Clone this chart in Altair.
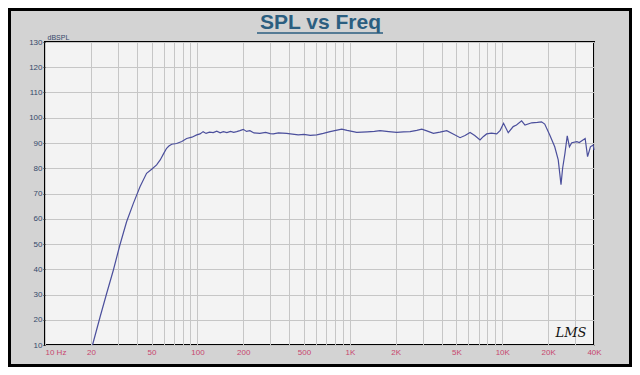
import altair as alt
import pandas as pd

# ---- data ----
freq = [20.5, 23, 25.4, 28.1, 31, 34.3, 38, 42, 46.4, 50.1, 54, 57, 60, 62.8, 65, 67.8,
        73, 79, 85, 92, 99, 104, 109, 114, 120, 127, 134, 141, 148, 156, 165, 173, 181,
        190, 200, 210, 221, 235, 257, 280, 300, 315, 340, 385, 420, 459, 500, 550, 607,
        670, 742, 810, 885, 960, 1110, 1300, 1450, 1578, 1800, 2030, 2250, 2485, 2750,
        2965, 3200, 3535, 3900, 4325, 4800, 5288, 5700, 6150, 6600, 7150, 7500, 7900,
        8500, 9200, 9700, 10200, 10950, 11800, 12400, 13400, 14100, 15600, 17000, 18100,
        19000, 20500, 22100, 23300, 24300, 24900, 25800, 26700, 27600, 28600, 30900,
        32000, 33300, 35000, 36300, 37900, 39500, 40000]
spl = [10, 21.2, 30.5, 39.7, 49.6, 58.8, 66.1, 72.7, 78, 79.6, 81.3, 83.3, 85.8, 87.9,
       88.8, 89.5, 89.8, 90.6, 91.8, 92.3, 93.2, 93.6, 94.5, 93.8, 94.3, 94.1, 94.7, 94.0,
       94.5, 94.1, 94.6, 94.2, 94.5, 94.9, 95.4, 94.6, 94.9, 94.0, 93.8, 94.2, 93.7, 93.6,
       94.0, 93.8, 93.5, 93.2, 93.4, 93.0, 93.2, 93.8, 94.5, 95.0, 95.5, 95.0, 94.2, 94.4,
       94.6, 94.9, 94.5, 94.2, 94.4, 94.5, 95.0, 95.5, 94.8, 93.8, 94.3, 94.9, 93.5, 92.1,
       93.0, 94.2, 93.0, 91.2, 92.5, 93.6, 93.9, 93.6, 95.0, 97.8, 94.1, 96.5, 97.1, 98.8,
       97.1, 98.0, 98.2, 98.4, 97.5, 93.2, 88.5, 83.3, 73.5, 80, 86, 92.8, 88.5, 90.1,
       90.5, 90.2, 90.9, 91.8, 84.6, 88.5, 89.2, 87.2]

x_grid_values = [10, 20, 30, 40, 50, 60, 70, 80, 90,
                 100, 200, 300, 400, 500, 600, 700, 800, 900,
                 1000, 2000, 3000, 4000, 5000, 6000, 7000, 8000, 9000,
                 10000, 20000, 30000, 40000]
x_label_values = [10, 20, 50, 100, 200, 500, 1000, 2000, 5000, 10000, 20000, 40000]
x_label_texts = ["10 Hz", "20", "50", "100", "200", "500", "1K", "2K", "5K", "10K", "20K", "40K"]
y_values = [10, 20, 30, 40, 50, 60, 70, 80, 90, 100, 110, 120, 130]

title_text = "SPL vs Freq"
y_title = "dBSPL"
logo_text = "LMS"

df = pd.DataFrame({"freq": freq, "spl": spl})

label_expr = "".join(
    f"datum.value == {v} ? '{t}' : " for v, t in zip(x_label_values, x_label_texts)
) + "''"

W, H = 549, 303
FONT = "Liberation Sans"

x_enc = alt.X(
    "freq:Q",
    scale=alt.Scale(type="log", domain=[10, 40000], nice=False),
    axis=alt.Axis(
        values=x_grid_values, labelExpr=label_expr, labelOverlap=False,
        labelFont=FONT, labelFontSize=8, labelColor="#c8466e",
        labelAlign={"condition": {"test": "datum.value == 10", "value": "left"}, "value": "center"},
        labelPadding=3, ticks=False, tickSize=0, domain=False,
        grid=True, gridColor="#c6c6c6", gridWidth=1, title=None,
    ),
)
y_enc = alt.Y(
    "spl:Q",
    scale=alt.Scale(domain=[10, 130], nice=False, zero=False),
    axis=alt.Axis(
        values=y_values, labelFont=FONT, labelFontSize=8, labelColor="#34486a",
        labelPadding=1, tickSize=2, tickColor="#222222", domain=False,
        grid=True, gridColor="#c6c6c6", gridWidth=1,
        title=y_title, titleAngle=0, titleX=2, titleY=-3, titleAlign="left",
        titleBaseline="alphabetic", titleFont=FONT, titleFontSize=7,
        titleFontWeight="normal", titleColor="#34486a",
    ),
)

line = alt.Chart(df).mark_line(color="#4b4f9c", strokeWidth=1.2).encode(x=x_enc, y=y_enc)

one = pd.DataFrame({"k": [0]})

frame = alt.Chart(one).mark_rect(fillOpacity=0, stroke="black", strokeWidth=3).encode(
    x=alt.value(-35.5), x2=alt.value(W + 36.5), y=alt.value(-32.5), y2=alt.value(H + 20.5)
)

title = alt.Chart(one).mark_text(
    font=FONT, fontSize=21, fontWeight="bold", color="#2b5e80",
    align="center", baseline="alphabetic",
).encode(x=alt.value(W / 2 + 1), y=alt.value(-13), text=alt.value(title_text))

underline = alt.Chart(one).mark_rule(color="#2b5e80", strokeWidth=1.5).encode(
    x=alt.value(212), x2=alt.value(338), y=alt.value(-9)
)

logo = alt.Chart(one).mark_text(
    font="DejaVu Serif", fontSize=13, fontStyle="italic", color="#111111",
    align="center", baseline="alphabetic",
).encode(x=alt.value(526), y=alt.value(295), text=alt.value(logo_text))

chart = (
    alt.layer(line, frame, title, underline, logo)
    .properties(
        width=W, height=H,
        autosize=alt.AutoSizeParams(type="none"),
        padding={"left": 37, "top": 34, "right": 38, "bottom": 22},
        background="#d3d3d3",
    )
    .configure_view(stroke="black", strokeWidth=2, fill="#f3f3f3")
)

chart.save("out.html", embed_options={"renderer": "svg", "actions": False})
